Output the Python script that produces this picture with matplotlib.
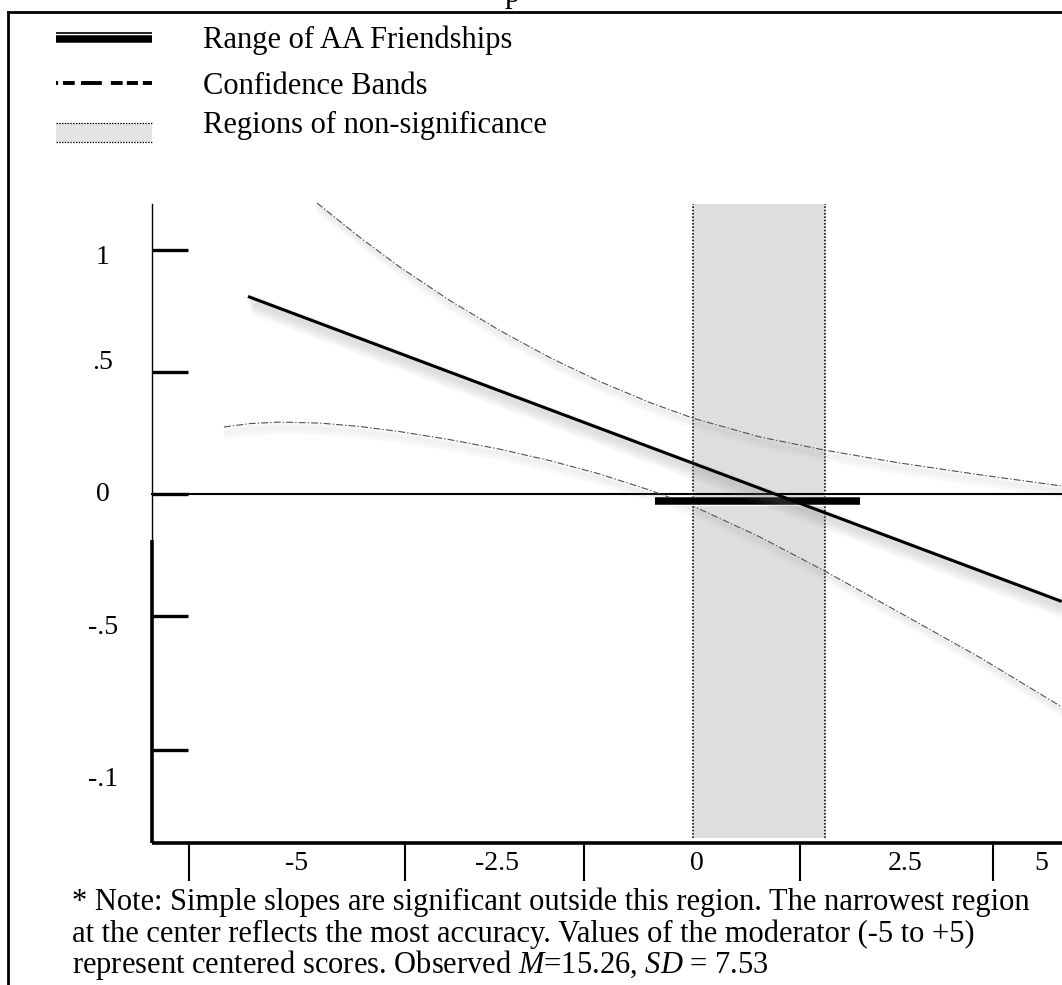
import matplotlib.pyplot as plt
import matplotlib.patheffects as pe

plt.rcParams['font.family'] = ['Liberation Serif', 'DejaVu Serif']
plt.rcParams['mathtext.fontset'] = 'custom'
plt.rcParams['mathtext.rm'] = 'Liberation Serif'
plt.rcParams['mathtext.it'] = 'Liberation Serif:italic'
plt.rcParams['lines.scale_dashes'] = False

# simple slope of the outcome across the (centered) moderator
slope_x = [-5.62, 4.68]
slope_y = [0.81, -0.44]

# confidence bands
upper_x = [-4.747, -4.203, -3.696, -3.063, -2.430, -1.797, -1.165, -0.532,
           0.013, 0.861, 1.684, 2.620, 3.646, 4.684]
upper_y = [1.193, 1.052, 0.930, 0.793, 0.670, 0.559, 0.461, 0.375,
           0.311, 0.234, 0.180, 0.128, 0.079, 0.033]
lower_x = [-5.924, -5.595, -5.215, -4.709, -4.203, -3.696, -3.063, -2.430, -1.797,
           -1.165, -0.532, 0.013, 0.861, 1.684, 2.620, 3.646, 4.684]
lower_y = [0.275, 0.289, 0.295, 0.291, 0.277, 0.256, 0.223, 0.184, 0.137,
           0.082, 0.016, -0.049, -0.176, -0.316, -0.484, -0.670, -0.873]

# region of non-significance and observed range of AA friendships
region = [0.01, 1.68]
aa_range = [-0.47, 2.13]

ytick_vals = [1.0, 0.5, 0.0, -0.5, -1.05]
ylabel_vals = [0.97, 0.54, 0.0, -0.545, -1.17]
ytick_labels = ['1', '.5', '0', '-.5', '-.1']
xtick_vals = [-6.37, -3.63, -1.37, 1.37, 3.81]
xlabel_vals = [-5, -2.47, 0.06, 2.7, 4.42]
xtick_labels = ['-5', '-2.5', '0', '2.5', '5']

legend_labels = ['Range of AA Friendships', 'Confidence Bands', 'Regions of non-significance']
note_lines = [
    "* Note: Simple slopes are significant outside this region. The narrowest region",
    "at the center reflects the most accuracy. Values of the moderator (-5 to +5)",
    "represent centered scores. Observed $\\mathit{M}$=15.26, $\\mathit{SD}$ = 7.53",
]

FS = 22
TICK_FS = 20

fig = plt.figure(figsize=(10.62, 9.85), dpi=100)
ax = fig.add_axes([0, 0, 1, 1])
ax.set_xlim(-8.759, 4.684)
ax.set_ylim(-2.012, 2.025)
ax.axis('off')


def shadow(lw, n=4, alpha=0.07):
    return [pe.SimpleLineShadow(offset=(1.0 * i, -2.0 * i), shadow_color='#888888',
                                alpha=alpha, linewidth=lw + i) for i in range(1, n + 1)]


# axes
y_axis_x = -6.84
ax.plot([y_axis_x, y_axis_x], [1.19, -0.19], color='black', lw=1.0)
ax.plot([y_axis_x, y_axis_x], [-0.19, -1.43], color='black', lw=2.6, solid_capstyle='butt')
ax.plot([y_axis_x, 4.684], [-1.43, -1.43], color='black', lw=2.6, solid_capstyle='butt')
for v in ytick_vals:
    ax.plot([y_axis_x, -6.38], [v, v], color='black', lw=2.4, solid_capstyle='butt')
for v, lab in zip(ylabel_vals, ytick_labels):
    ax.text(-7.46, v, lab, ha='center', va='center', fontsize=TICK_FS)
for v in xtick_vals:
    ax.plot([v, v], [-1.43, -1.585], color='black', lw=1.5, solid_capstyle='butt')
for v, lab in zip(xlabel_vals, xtick_labels):
    ax.text(v, -1.512, lab, ha='center', va='center', fontsize=TICK_FS)

# region of non-significance
ax.fill_between(region, -1.41, 1.19, color='#dedede', lw=0, zorder=1)
for v in region:
    ax.plot([v, v], [-1.41, 1.19], color='black', lw=1.1, ls=(0, (1.2, 1.2)), zorder=2)

# zero line
ax.plot([y_axis_x, 4.684], [0, 0], color='black', lw=1.5, zorder=3)

# confidence bands (faint solid shadow under a thin dash-dot line)
for bx, by in ((upper_x, upper_y), (lower_x, lower_y)):
    ax.plot(bx, by, color='none', lw=1, path_effects=shadow(2, n=3, alpha=0.05), zorder=4)
    ax.plot(bx, by, color='#505050', lw=0.8, ls=(0, (5, 1.5, 1, 1.5)), zorder=4)

# range of AA friendships
ax.plot(aa_range, [-0.027, -0.027], color='black', lw=5.4, solid_capstyle='butt',
        path_effects=[pe.Stroke(linewidth=6.6, foreground='white'), pe.Normal()], zorder=5)

# simple slope
ax.plot(slope_x, slope_y, color='black', lw=2.2, solid_capstyle='butt',
        path_effects=shadow(6) + [pe.Normal()], zorder=6)

# frame and clipped title
ax.plot([0.0075, 1.0], [0.9878, 0.9878], transform=ax.transAxes, color='black', lw=2.0)
ax.plot([0.0075, 0.0075], [0.9878, 0.0], transform=ax.transAxes, color='black', lw=2.0)
ax.text(0.4755, 0.998, 'p', transform=ax.transAxes, fontsize=FS, va='baseline', ha='left')

# legend
lx = [0.0527, 0.1431]
ax.plot(lx, [0.9670, 0.9670], transform=ax.transAxes, color='black', lw=1.2,
        solid_capstyle='butt')
ax.plot(lx, [0.9602, 0.9602], transform=ax.transAxes, color='black', lw=5.4,
        solid_capstyle='butt')
ax.plot(lx, [0.9157, 0.9157], transform=ax.transAxes, color='black', lw=2.8,
        ls=(0, (1.5, 3.5, 8.5, 4.5, 15, 6.5, 8.5, 3, 8, 3.5, 8)), solid_capstyle='butt')
ax.fill_between(lx, 0.8558, 0.8751, transform=ax.transAxes, color='#e4e4e4', lw=0)
for yy in (0.8558, 0.8751):
    ax.plot(lx, [yy, yy], transform=ax.transAxes, color='black', lw=0.9, ls=(0, (1, 1)))
for yy, lab in zip([0.9594, 0.9117, 0.8721], legend_labels):
    ax.text(0.1911, yy, lab, transform=ax.transAxes, fontsize=FS, va='center')

# note
for yy, line in zip([0.0761, 0.0437, 0.0122], note_lines):
    ax.text(0.068, yy, line, transform=ax.transAxes, fontsize=FS, va='baseline', ha='left')

fig.savefig('out.png', dpi=100)
